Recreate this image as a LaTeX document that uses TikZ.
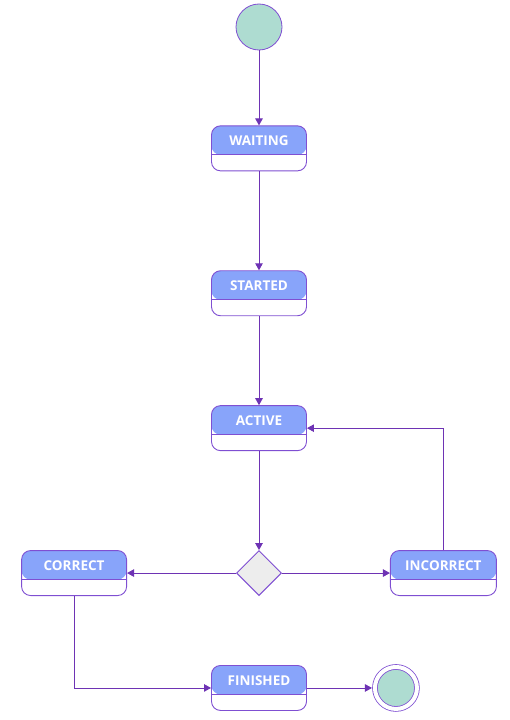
\documentclass[tikz,border=0pt]{standalone}
\usepackage{fontspec}
\setmainfont{Open Sans}
\usetikzlibrary{positioning, arrows.meta, shapes.geometric}

\definecolor{edgepurple}{HTML}{6E33B4}
\definecolor{boxpurple}{HTML}{7F4FD2}
\definecolor{headblue}{HTML}{88A4FA}
\definecolor{mint}{HTML}{AEDCD1}
\definecolor{lightgrey}{HTML}{EDEDED}

\begin{document}
\begin{tikzpicture}[
  x=1pt, y=-1pt,
  arr/.style = {-{Triangle[length=7pt, width=7.5pt]}, draw=edgepurple, line width=0.9pt},
  state/.style = {draw=boxpurple, line width=0.9pt, rounded corners=9pt, fill=white,
    minimum width=95pt, minimum height=45pt, inner sep=0pt,
    text height=10pt, text depth=15pt, text=white, font=\bfseries\fontsize{13.5}{15}\selectfont,
    path picture={
      \fill[headblue] (path picture bounding box.north west) rectangle
        ([yshift=-29pt]path picture bounding box.north east);
      \draw[boxpurple, line width=0.9pt] ([yshift=-29pt]path picture bounding box.north west) --
        ([yshift=-29pt]path picture bounding box.north east);
    }},
  initial/.style = {circle, draw=boxpurple, line width=0.8pt, fill=mint, minimum size=46pt, inner sep=0pt},
  final/.style = {circle, draw=boxpurple, line width=0.8pt, double=white, double distance=4pt,
    fill=mint, minimum size=42pt, inner sep=0pt, outer sep=3pt},
  choice/.style = {diamond, draw=boxpurple, line width=0.9pt, fill=lightgrey, minimum size=45pt, inner sep=0pt}
]
\useasboundingbox (0,0) rectangle (509,720);

% States
\node (start) [initial] at (259,27) {};
\node (waiting) [state, below=75pt of start] {WAITING};
\node (started) [state, below=99pt of waiting] {STARTED};
\node (active) [state, below=89pt of started] {ACTIVE};
\node (check) [choice, below=99pt of active] {};
\node (correct) [state, minimum width=105pt, left=109pt of check] {CORRECT};
\node (incorrect) [state, minimum width=106pt, right=108pt of check] {INCORRECT};
\node (finished) [state, below=69pt of check] {FINISHED};
\node (stop) [final, right=65pt of finished] {};

% Transitions
\draw[arr] (start) -- (waiting);
\draw[arr] (waiting) -- (started);
\draw[arr] (started) -- (active);
\draw[arr] (active) -- (check);
\draw[arr] (check) -- (correct);
\draw[arr] (check) -- (incorrect);
\draw[arr] (incorrect.north) |- (active.east); % back to active
\draw[arr] (correct.south) |- (finished.west);
\draw[arr] (finished) -- (stop);

\end{tikzpicture}
\end{document}
